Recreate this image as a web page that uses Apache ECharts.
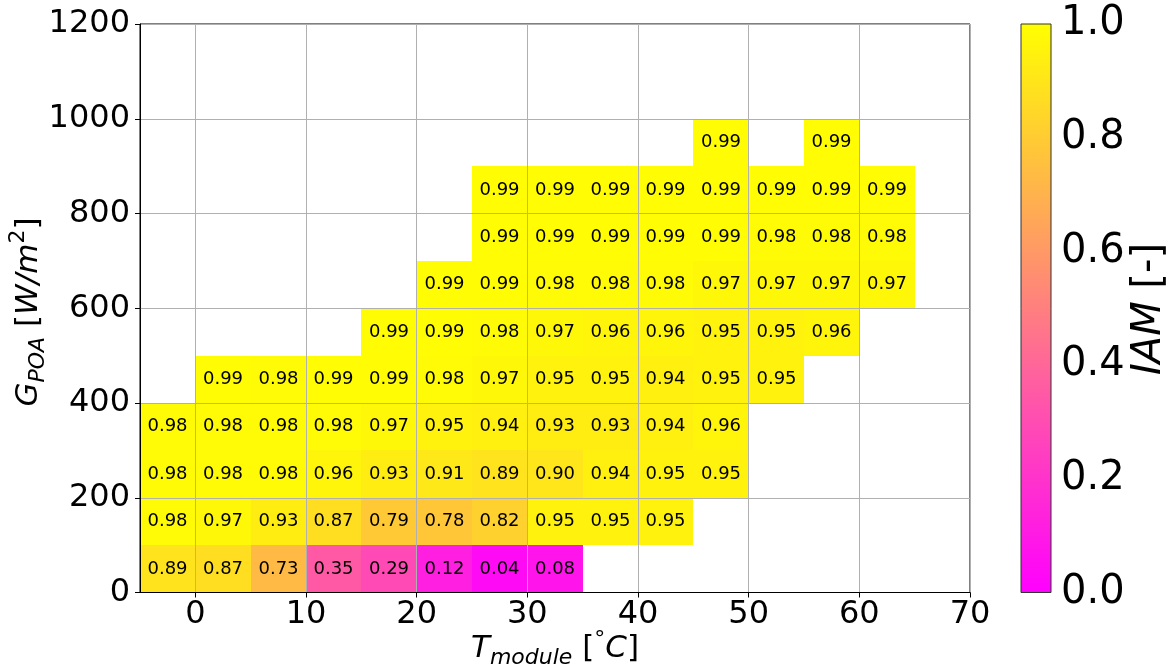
<!DOCTYPE html>
<html>
<head>
<meta charset="utf-8">
<script src="https://cdn.jsdelivr.net/npm/echarts@6/dist/echarts.min.js"></script>
<style>
html,body{margin:0;padding:0;background:#fff;}
#chart{width:1176px;height:670px;}
</style>
</head>
<body>
<div id="chart"></div>
<script>
// ---- data ----
const xBinStarts = [-5, 0, 5, 10, 15, 20, 25, 30, 35, 40, 45, 50, 55, 60, 65];
const xBinWidth = 5;
const yBinHeight = 100;
const row0   = [0.89, 0.87, 0.73, 0.35, 0.29, 0.12, 0.04, 0.08, null, null, null, null, null, null, null];
const row100 = [0.98, 0.97, 0.93, 0.87, 0.79, 0.78, 0.82, 0.95, 0.95, 0.95, null, null, null, null, null];
const row200 = [0.98, 0.98, 0.98, 0.96, 0.93, 0.91, 0.89, 0.90, 0.94, 0.95, 0.95, null, null, null, null];
const row300 = [0.98, 0.98, 0.98, 0.98, 0.97, 0.95, 0.94, 0.93, 0.93, 0.94, 0.96, null, null, null, null];
const row400 = [null, 0.99, 0.98, 0.99, 0.99, 0.98, 0.97, 0.95, 0.95, 0.94, 0.95, 0.95, null, null, null];
const row500 = [null, null, null, null, 0.99, 0.99, 0.98, 0.97, 0.96, 0.96, 0.95, 0.95, 0.96, null, null];
const row600 = [null, null, null, null, null, 0.99, 0.99, 0.98, 0.98, 0.98, 0.97, 0.97, 0.97, 0.97, null];
const row700 = [null, null, null, null, null, null, 0.99, 0.99, 0.99, 0.99, 0.99, 0.98, 0.98, 0.98, null];
const row800 = [null, null, null, null, null, null, 0.99, 0.99, 0.99, 0.99, 0.99, 0.99, 0.99, 0.99, null];
const row900 = [null, null, null, null, null, null, null, null, null, null, 0.99, null, 0.99, null, null];
const yBinStarts = [0, 100, 200, 300, 400, 500, 600, 700, 800, 900];
const rows = [row0, row100, row200, row300, row400, row500, row600, row700, row800, row900];
const xTickValues = [0, 10, 20, 30, 40, 50, 60, 70];
const cbarTicks = [0, 0.2, 0.4, 0.6, 0.8, 1.0];
const cbarRange = [0, 1];

// build cell list
const cells = [];
rows.forEach((r, ri) => {
  r.forEach((v, ci) => {
    if (v !== null) cells.push([xBinStarts[ci], yBinStarts[ri], v]);
  });
});

const FONT = 'DejaVu Sans';
const chart = echarts.init(document.getElementById('chart'), null, {renderer: 'canvas'});

const option = {
  backgroundColor: '#fff',
  animation: false,
  grid: [
    {left: 140, right: 206, top: 24, bottom: 77.5, show: true, borderColor: '#000', borderWidth: 1, backgroundColor: 'transparent'},
    {left: 1021, width: 30, top: 24, bottom: 77.5}
  ],
  visualMap: {
    type: 'continuous', show: false, min: 0, max: 1, dimension: 2, seriesIndex: 0,
    inRange: {color: ['#ff00ff', '#ffff00']}
  },
  xAxis: [
    {
      gridIndex: 0, type: 'value', min: -5, max: 70, z: 3,
      axisLine: {show: true, onZero: false, lineStyle: {color: '#000', width: 1}},
      axisTick: {show: true, customValues: xTickValues, length: 5, lineStyle: {color: '#000'}},
      axisLabel: {customValues: xTickValues, fontFamily: FONT, fontSize: 32, color: '#000', margin: 6,
        formatter: v => String(v)},
      splitLine: {show: true, lineStyle: {color: '#b0b0b0', width: 1}}
    },
    {gridIndex: 1, type: 'value', min: 0, max: 1, show: false}
  ],
  yAxis: [
    {
      gridIndex: 0, type: 'value', min: 0, max: 1200, interval: 200, z: 3,
      axisLine: {show: true, onZero: false, lineStyle: {color: '#000', width: 1}},
      axisTick: {show: true, length: 5, lineStyle: {color: '#000'}},
      axisLabel: {fontFamily: FONT, fontSize: 32, color: '#000', margin: 10, showMinLabel: true, showMaxLabel: true,
        formatter: v => String(v)},
      splitLine: {show: true, lineStyle: {color: '#b0b0b0', width: 1}}
    },
    {
      gridIndex: 1, type: 'value', min: cbarRange[0], max: cbarRange[1], position: 'right',
      axisLabel: {customValues: cbarTicks, fontFamily: FONT, fontSize: 40, color: '#000', margin: 10,
        showMinLabel: true, showMaxLabel: true, formatter: v => v.toFixed(1)},
      axisTick: {show: true, customValues: cbarTicks, length: 5, lineStyle: {color: '#000'}},
      axisLine: {show: false},
      splitLine: {show: false}
    }
  ],
  series: [
    {
      type: 'custom', xAxisIndex: 0, yAxisIndex: 0, z: 2,
      data: cells,
      renderItem: function (params, api) {
        const x0 = api.value(0), y0 = api.value(1), v = api.value(2);
        const p0 = api.coord([x0, y0]);
        const p1 = api.coord([x0 + xBinWidth, y0 + yBinHeight]);
        const left = Math.round(p0[0]), right = Math.round(p1[0]);
        const bottom = Math.round(p0[1]), top = Math.round(p1[1]);
        return {
          type: 'group',
          children: [
            {type: 'rect', shape: {x: left, y: top, width: right - left, height: bottom - top},
              style: {fill: api.visual('color')}},
            {type: 'text', z2: 10, style: {text: v.toFixed(2), x: (left + right) / 2, y: (top + bottom) / 2,
              align: 'center', verticalAlign: 'middle', font: '18px "DejaVu Sans"', fill: '#000'}}
          ]
        };
      }
    },
    {
      type: 'custom', xAxisIndex: 1, yAxisIndex: 1, silent: true,
      data: [[0, cbarRange[0], 1, cbarRange[1]]],
      renderItem: function (params, api) {
        const p0 = api.coord([api.value(0), api.value(1)]);
        const p1 = api.coord([api.value(2), api.value(3)]);
        return {
          type: 'rect',
          shape: {x: p0[0], y: p1[1], width: p1[0] - p0[0], height: p0[1] - p1[1]},
          style: {
            fill: new echarts.graphic.LinearGradient(0, 1, 0, 0, [
              {offset: 0, color: '#ff00ff'}, {offset: 1, color: '#ffff00'}
            ]),
            stroke: '#333', lineWidth: 1
          }
        };
      }
    }
  ],
  graphic: [
    {
      type: 'text', x: 555, y: 649,
      style: {
        x: 0, y: 0,
        text: '{i|T}{sub|module}{n| [}{sup|°}{i|C}{n|]}',
        align: 'center', verticalAlign: 'middle',
        rich: {
          i: {fontFamily: FONT, fontStyle: 'italic', fontSize: 31, verticalAlign: 'top', padding: [4, 0, 0, 0], fill: '#000'},
          n: {fontFamily: FONT, fontSize: 31, verticalAlign: 'top', padding: [4, 0, 0, 0], fill: '#000'},
          sub: {fontFamily: FONT, fontStyle: 'italic', fontSize: 22, verticalAlign: 'top', padding: [18, 0, 0, 0], fill: '#000'},
          sup: {fontFamily: FONT, fontSize: 22, verticalAlign: 'top', padding: [0, 0, 0, 0], fill: '#000'}
        }
      }
    },
    {
      type: 'text', x: 28, y: 312, rotation: Math.PI / 2,
      style: {
        x: 0, y: 0,
        text: '{i|G}{sub|POA}{n| [}{i|W/m}{sup|2}{n|]}',
        align: 'center', verticalAlign: 'middle',
        rich: {
          i: {fontFamily: FONT, fontStyle: 'italic', fontSize: 31, verticalAlign: 'top', padding: [6, 0, 0, 0], fill: '#000'},
          n: {fontFamily: FONT, fontSize: 31, verticalAlign: 'top', padding: [6, 0, 0, 0], fill: '#000'},
          sub: {fontFamily: FONT, fontStyle: 'italic', fontSize: 22, verticalAlign: 'top', padding: [20, 0, 0, 0], fill: '#000'},
          sup: {fontFamily: FONT, fontSize: 22, verticalAlign: 'top', padding: [0, 0, 0, 0], fill: '#000'}
        }
      }
    },
    {
      type: 'text', x: 1150, y: 309, rotation: Math.PI / 2,
      style: {
        x: 0, y: 0,
        text: '{i|IAM}{n| [-]}',
        align: 'center', verticalAlign: 'middle',
        rich: {
          i: {fontFamily: FONT, fontStyle: 'italic', fontSize: 40, fill: '#000'},
          n: {fontFamily: FONT, fontSize: 40, fill: '#000'}
        }
      }
    }
  ]
};
chart.setOption(option);
</script>
</body>
</html>
